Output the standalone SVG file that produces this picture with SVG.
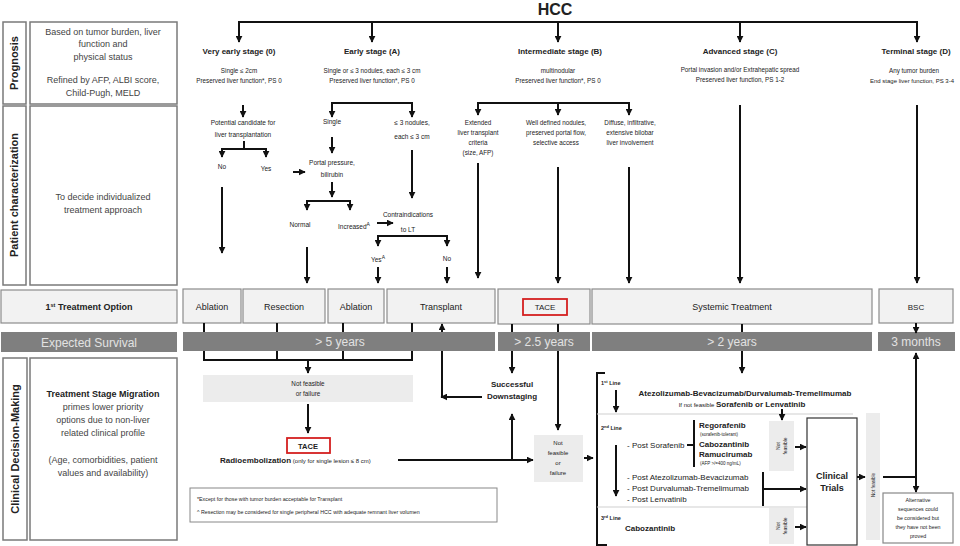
<svg xmlns="http://www.w3.org/2000/svg" width="960" height="546" viewBox="0 0 960 546">
<style>
.t{font-family:"Liberation Sans",Arial,sans-serif;fill:#222}
.g{fill:#444}
.b{font-weight:bold}
.m{text-anchor:middle}
.c{stroke:#111;stroke-width:2;fill:none}
.a{stroke:#111;stroke-width:2;fill:none;marker-end:url(#ah)}
.box{fill:#f2f2f2;stroke:#8c8c8c;stroke-width:1.2}
.lbl{fill:#fff;stroke:#7a7a7a;stroke-width:1.5}
.bar{fill:#7f7f7f}
.sv{fill:#e2e2e2;font-size:12px}
.red{fill:none;stroke:#d42020;stroke-width:1.8}
.nf{fill:#ececec}
.sep{stroke:#cfcfcf;stroke-width:1.2}
</style>
<defs>
<marker id="ah" viewBox="0 0 10 10" refX="9" refY="5" markerWidth="7" markerHeight="7" markerUnits="userSpaceOnUse" orient="auto"><path d="M0,0 L10,5 L0,10 z" fill="#111"/></marker>
</defs>
<rect width="960" height="546" fill="#fff"/>

<!-- Left column -->
<g id="row-prognosis">
<rect class="lbl" x="3" y="22" width="23" height="82"/>
<text class="t b m" font-size="11" fill="#111" transform="translate(18,63) rotate(-90)">Prognosis</text>
<rect class="lbl" x="30" y="22" width="147" height="82"/>
<g class="t m g" font-size="9">
<text x="103" y="35">Based on tumor burden, liver</text>
<text x="103" y="47">function and</text>
<text x="103" y="60">physical status</text>
<text x="103" y="83">Refined by AFP,  ALBI score,</text>
<text x="103" y="96">Child-Pugh, MELD</text>
</g>
</g>
<g id="row-patient">
<rect class="lbl" x="3" y="106" width="23" height="179"/>
<text class="t b m" font-size="11" fill="#111" transform="translate(18,195) rotate(-90)">Patient characterization</text>
<rect class="lbl" x="30" y="106" width="147" height="179"/>
<text class="t m g" font-size="9" x="103" y="200">To decide individualized</text>
<text class="t m g" font-size="9" x="103" y="213">treatment approach</text>
</g>
<g id="row-treatment">
<rect class="box" x="1" y="290" width="176" height="33"/>
<text class="t b m" font-size="9" x="89" y="310">1<tspan font-size="5.5" dy="-3">st</tspan><tspan dy="3"> Treatment Option</tspan></text>
</g>
<g id="row-survival">
<rect class="bar" x="1" y="332" width="176" height="20"/>
<text class="t sv m" x="89" y="347">Expected Survival</text>
</g>
<g id="row-clinical">
<rect class="lbl" x="3" y="358" width="24" height="182"/>
<text class="t b m" font-size="11" fill="#111" transform="translate(19,449) rotate(-90)">Clinical Decision-Making</text>
<rect class="lbl" x="30" y="358" width="147" height="182"/>
<g class="t m g" font-size="9">
<text x="103" y="397" class="b" fill="#222">Treatment Stage Migration</text>
<text x="103" y="410">primes lower priority</text>
<text x="103" y="423">options due to non-liver</text>
<text x="103" y="436">related clinical profile</text>
<text x="103" y="463">(Age, comorbidities, patient</text>
<text x="103" y="476">values and  availability)</text>
</g>
</g>

<!-- Title -->
<g id="hcc"><text class="t b m" font-size="16" fill="#111" x="555" y="15">HCC</text></g>

<!-- Stages -->
<g id="stage-0" class="t m">
<text class="b" font-size="8" x="239" y="54">Very early stage (0)</text>
<text font-size="6.3" x="239" y="73">Single ≤ 2cm</text>
<text font-size="6.3" x="239" y="83">Preserved liver function*, PS 0</text>
</g>
<g id="stage-a" class="t m">
<text class="b" font-size="8" x="372" y="54">Early stage (A)</text>
<text font-size="6.3" x="372" y="73">Single or ≤ 3 nodules, each ≤ 3 cm</text>
<text font-size="6.3" x="372" y="83">Preserved liver function*, PS 0</text>
</g>
<g id="stage-b" class="t m">
<text class="b" font-size="8" x="560" y="54">Intermediate  stage (B)</text>
<text font-size="6.3" x="558" y="73">multinodular</text>
<text font-size="6.3" x="558" y="83">Preserved liver function*, PS 0</text>
</g>
<g id="stage-c" class="t m">
<text class="b" font-size="8" x="740" y="54">Advanced  stage (C)</text>
<text font-size="6.3" x="740" y="72">Portal invasion  and/or Extrahepatic spread</text>
<text font-size="6.3" x="740" y="82">Preserved liver function, PS 1-2</text>
</g>
<g id="stage-d" class="t m">
<text class="b" font-size="8" x="916" y="54">Terminal stage (D)</text>
<text font-size="6.3" x="914" y="73">Any tumor burden</text>
<text font-size="6" x="912" y="83">End stage liver function, PS 3-4</text>
</g>

<!-- Patient characterization nodes -->
<g id="pc-candidate" class="t m" font-size="6.5">
<text x="243" y="125">Potential candidate for</text>
<text x="243" y="137">liver transplantation</text>
</g>
<g id="pc-no1" class="t m" font-size="6.5"><text x="222" y="169">No</text></g>
<g id="pc-yes1" class="t m" font-size="6.5"><text x="266" y="171">Yes</text></g>
<g id="pc-single" class="t m" font-size="6.5"><text x="332" y="124">Single</text></g>
<g id="pc-nodules" class="t m" font-size="6.5"><text x="412" y="125">≤ 3 nodules,</text><text x="412" y="139">each ≤ 3 cm</text></g>
<g id="pc-portal" class="t m" font-size="6.5"><text x="332" y="165">Portal pressure,</text><text x="332" y="177">bilirubin</text></g>
<g id="pc-normal" class="t m" font-size="6.5"><text x="300" y="227">Normal</text></g>
<g id="pc-increased" class="t m" font-size="6.5"><text x="354" y="229">Increased<tspan font-size="5" dy="-3">A</tspan></text></g>
<g id="pc-contra" class="t m" font-size="6.5"><text x="408" y="217">Contraindications</text><text x="408" y="232">to LT</text></g>
<g id="pc-yes2" class="t m" font-size="6.5"><text x="378" y="262">Yes<tspan font-size="5" dy="-3">A</tspan></text></g>
<g id="pc-no2" class="t m" font-size="6.5"><text x="447" y="261">No</text></g>
<g id="pc-extended" class="t m" font-size="6.3"><text x="478" y="125">Extended</text><text x="478" y="135">liver transplant</text><text x="478" y="145">criteria</text><text x="478" y="155">(size, AFP)</text></g>
<g id="pc-welldefined" class="t m" font-size="6.3"><text x="556" y="125">Well defined nodules,</text><text x="556" y="135">preserved portal flow,</text><text x="556" y="145">selective access</text></g>
<g id="pc-diffuse" class="t m" font-size="6.3"><text x="630" y="125">Diffuse, infiltrative,</text><text x="630" y="135">extensive bilobar</text><text x="630" y="145">liver involvement</text></g>

<!-- Treatment options -->
<g id="tx-ablation1"><rect class="box" x="183" y="289" width="58" height="34"/><text class="t m" font-size="9" x="212" y="310">Ablation</text></g>
<g id="tx-resection"><rect class="box" x="243" y="289" width="82" height="34"/><text class="t m" font-size="9" x="284" y="310">Resection</text></g>
<g id="tx-ablation2"><rect class="box" x="328" y="289" width="56" height="34"/><text class="t m" font-size="9" x="356" y="310">Ablation</text></g>
<g id="tx-transplant"><rect class="box" x="387" y="289" width="108" height="34"/><text class="t m" font-size="9" x="441" y="310">Transplant</text></g>
<g id="tx-tace"><rect class="box" x="498" y="289" width="92" height="35"/><rect class="red" x="523" y="299" width="44" height="16"/><text class="t m" font-size="8" x="545" y="310">TACE</text></g>
<g id="tx-systemic"><rect class="box" x="592" y="289" width="280" height="35"/><text class="t m" font-size="9" x="732" y="310">Systemic Treatment</text></g>
<g id="tx-bsc"><rect class="box" x="879" y="289" width="74" height="34"/><text class="t m" font-size="8" x="916" y="310">BSC</text></g>

<!-- Survival -->
<g id="sv-5"><rect class="bar" x="183" y="332" width="312" height="19"/><text class="t sv m" x="340" y="346">&gt; 5 years</text></g>
<g id="sv-25"><rect class="bar" x="498" y="332" width="92" height="19"/><text class="t sv m" x="544" y="346">&gt; 2.5 years</text></g>
<g id="sv-2"><rect class="bar" x="592" y="332" width="280" height="19"/><text class="t sv m" x="732" y="346">&gt; 2 years</text></g>
<g id="sv-3m"><rect class="bar" x="878" y="332" width="77" height="19"/><text class="t sv m" x="916" y="346">3 months</text></g>

<!-- Clinical decision making -->
<g id="cd-notfeasible1"><rect class="nf" x="203" y="375" width="210" height="27"/><text class="t m" font-size="6.3" x="308" y="386">Not  feasible</text><text class="t m" font-size="6.3" x="308" y="396">or failure</text></g>
<g id="cd-tace2"><rect class="red" x="287" y="438" width="43" height="15"/><text class="t b m" font-size="7.5" x="308" y="449">TACE</text></g>
<g id="cd-radio"><text class="t" x="220" y="463"><tspan class="b" font-size="8">Radioembolization</tspan><tspan font-size="6"> (only  for single lesion ≤ 8 cm)</tspan></text></g>
<g id="cd-downstaging"><text class="t b m" font-size="8" x="512" y="387">Successful</text><text class="t b m" font-size="8" x="512" y="399">Downstaging</text></g>
<g id="cd-notfeasible2"><rect class="nf" x="534" y="435" width="49" height="47"/>
<g class="t m" font-size="6" fill="#444"><text x="558" y="445">Not</text><text x="558" y="455">feasible</text><text x="558" y="465">or</text><text x="558" y="475">failure</text></g></g>
<g id="cd-footnote"><rect x="190" y="488" width="307" height="34" fill="#fff" stroke="#888" stroke-width="1"/>
<text class="t" font-size="5.3" x="197" y="501">*Except for  those with tumor burden acceptable for Transplant</text>
<text class="t" font-size="5.3" x="197" y="514">^ Resection may be considered for single peripheral HCC with adequate remnant liver volumen</text></g>

<g id="sys-lines">
<path class="c" d="M605,373 H597 V545 H607"/>
<line class="sep" x1="597" y1="414" x2="853" y2="414"/>
<line class="sep" x1="597" y1="507" x2="807" y2="507"/>
<text class="t b" font-size="5.5" x="601" y="385">1<tspan font-size="4" dy="-2">st</tspan><tspan dy="2"> Line</tspan></text>
<text class="t b m" font-size="8" x="745" y="396">Atezolizumab-Bevacizumab/Durvalumab-Tremelimumab</text>
<text class="t m" x="742" y="407"><tspan font-size="6">If not feasible </tspan><tspan class="b" font-size="8">Sorafenib or Lenvatinib</tspan></text>
<text class="t b" font-size="5.5" x="601" y="430">2<tspan font-size="4" dy="-2">nd</tspan><tspan dy="2"> Line</tspan></text>
<text class="t" font-size="8" x="627" y="448">- Post Sorafenib</text>
<text class="t b" font-size="8" x="699" y="428">Regorafenib</text>
<text class="t" font-size="4.5" x="700" y="436">(sorafenib-tolerant)</text>
<text class="t b" font-size="8" x="699" y="447">Cabozantinib</text>
<text class="t b" font-size="8" x="699" y="457">Ramucirumab</text>
<text class="t" font-size="4.5" x="700" y="465">(AFP &gt;/=400 ng/mL)</text>
<text class="t" font-size="8" x="627" y="480">- Post Atezolizumab-Bevacizumab</text>
<text class="t" font-size="8" x="627" y="491">- Post Durvalumab-Tremelimumab</text>
<text class="t" font-size="8" x="627" y="502">- Post Lenvatinib</text>
<text class="t b" font-size="5.5" x="601" y="520">3<tspan font-size="4" dy="-2">rd</tspan><tspan dy="2"> Line</tspan></text>
<text class="t b" font-size="8" x="625" y="531">Cabozantinib</text>
</g>
<g id="nf-a"><rect class="nf" x="769" y="421" width="25" height="50"/><g class="t m" font-size="5" fill="#555"><text transform="translate(780,446) rotate(-90)">Not</text><text transform="translate(787,446) rotate(-90)">feasible</text></g></g>
<g id="nf-b"><rect class="nf" x="769" y="508" width="25" height="36"/><g class="t m" font-size="5" fill="#555"><text transform="translate(780,526) rotate(-90)">Not</text><text transform="translate(787,526) rotate(-90)">feasible</text></g></g>
<g id="clinical-trials"><rect x="807" y="418" width="50" height="127" fill="#fff" stroke="#333" stroke-width="1.2"/><text class="t b m" font-size="9" x="832" y="479">Clinical</text><text class="t b m" font-size="9" x="832" y="491">Trials</text></g>
<g id="nf-c"><rect class="nf" x="866" y="413" width="14" height="127"/><text class="t m" font-size="4.5" fill="#555" transform="translate(875,485) rotate(-90)">Not feasible</text></g>
<g id="alternative"><rect x="883" y="493" width="70" height="50" fill="#fff" stroke="#888" stroke-width="1.2"/>
<g class="t m" font-size="5.3"><text x="918" y="502">Alternative</text><text x="918" y="511">sequences could</text><text x="918" y="520">be considered but</text><text x="918" y="529">they have not been</text><text x="918" y="538">proved</text></g></g>

<!-- Connectors -->
<g id="connectors">
<line class="c" x1="239" y1="22" x2="917" y2="22"/>
<line class="a" x1="239" y1="21" x2="239" y2="42"/>
<line class="a" x1="372" y1="22" x2="372" y2="42"/>
<line class="a" x1="558" y1="22" x2="558" y2="42"/>
<line class="a" x1="740" y1="22" x2="740" y2="42"/>
<line class="a" x1="917" y1="21" x2="917" y2="42"/>

<line class="a" x1="243" y1="105" x2="243" y2="117"/>
<line class="c" x1="244" y1="141" x2="244" y2="149"/>
<path class="c" d="M222,157 V149 H266 V157"/>
<line class="a" x1="222" y1="150" x2="222" y2="157"/>
<line class="a" x1="266" y1="150" x2="266" y2="157"/>
<line class="a" x1="293" y1="172" x2="305" y2="172"/>
<line class="a" x1="222" y1="187" x2="222" y2="253"/>

<path class="c" d="M332,116 V103 H412 V116"/>
<line class="a" x1="332" y1="104" x2="332" y2="117"/>
<line class="a" x1="412" y1="104" x2="412" y2="117"/>
<line class="a" x1="332" y1="137" x2="332" y2="153"/>
<line class="a" x1="332" y1="182" x2="332" y2="197"/>
<path class="c" d="M307,209 V201 H350 V209"/>
<line class="a" x1="307" y1="202" x2="307" y2="210"/>
<line class="a" x1="350" y1="202" x2="350" y2="210"/>
<line class="a" x1="377" y1="223" x2="393" y2="223"/>
<line class="a" x1="412" y1="150" x2="412" y2="198"/>
<path class="c" d="M378,245 V236 H447 V245"/>
<line class="a" x1="378" y1="237" x2="378" y2="246"/>
<line class="a" x1="447" y1="237" x2="447" y2="246"/>
<line class="a" x1="378" y1="267" x2="378" y2="283"/>
<line class="a" x1="447" y1="267" x2="447" y2="283"/>
<line class="a" x1="307" y1="247" x2="307" y2="283"/>

<path class="c" d="M478,114 V103 H629 V114"/>
<line class="a" x1="478" y1="104" x2="478" y2="115"/>
<line class="a" x1="558" y1="104" x2="558" y2="115"/>
<line class="a" x1="629" y1="104" x2="629" y2="115"/>
<line class="a" x1="478" y1="163" x2="478" y2="278"/>
<line class="a" x1="558" y1="167" x2="558" y2="283"/>
<line class="a" x1="629" y1="167" x2="629" y2="283"/>
<line class="a" x1="740" y1="105" x2="740" y2="283"/>
<line class="a" x1="917" y1="105" x2="917" y2="283"/>

<line class="c" x1="204" y1="323" x2="204" y2="332"/>
<line class="c" x1="277" y1="323" x2="277" y2="332"/>
<line class="c" x1="343" y1="323" x2="343" y2="332"/>
<line class="c" x1="412" y1="323" x2="412" y2="332"/>
<path class="c" d="M204,351 V360 H412 V351 M277,351 V360 M343,351 V360"/>
<line class="a" x1="308" y1="360" x2="308" y2="373"/>

<line class="a" x1="442" y1="332" x2="442" y2="324"/>
<line class="c" x1="442" y1="351" x2="442" y2="397"/>
<line class="a" x1="482" y1="397" x2="441" y2="397"/>

<line class="c" x1="512" y1="324" x2="512" y2="332"/>
<line class="a" x1="512" y1="351" x2="512" y2="373"/>
<line class="c" x1="558" y1="324" x2="558" y2="332"/>
<line class="a" x1="558" y1="351" x2="558" y2="430"/>

<line class="c" x1="742" y1="324" x2="742" y2="332"/>
<line class="a" x1="742" y1="351" x2="742" y2="373"/>
<line class="a" x1="916" y1="323" x2="916" y2="333"/>

<line class="a" x1="308" y1="404" x2="308" y2="433"/>
<line class="a" x1="398" y1="460" x2="533" y2="460"/>
<line class="a" x1="512" y1="460" x2="512" y2="414"/>
<line class="a" x1="584" y1="458" x2="593" y2="458"/>

<line class="a" x1="616" y1="390" x2="616" y2="412"/>
<line class="a" x1="616" y1="445" x2="616" y2="496"/>
<path class="c" d="M687,445 H694 M694,420 V467"/>
<line class="c" x1="763" y1="472" x2="763" y2="506"/>
<line class="a" x1="763" y1="489" x2="806" y2="489"/>
<line class="a" x1="782" y1="409" x2="782" y2="420"/>
<line class="a" x1="795" y1="447" x2="806" y2="447"/>
<line class="a" x1="795" y1="527" x2="806" y2="527"/>
<line class="a" x1="857" y1="477" x2="865" y2="477"/>
<line class="c" x1="883" y1="477" x2="916" y2="477"/>
<line class="a" x1="916" y1="477" x2="916" y2="353"/>
<line class="a" x1="916" y1="476" x2="916" y2="492"/>
</g>
</svg>
